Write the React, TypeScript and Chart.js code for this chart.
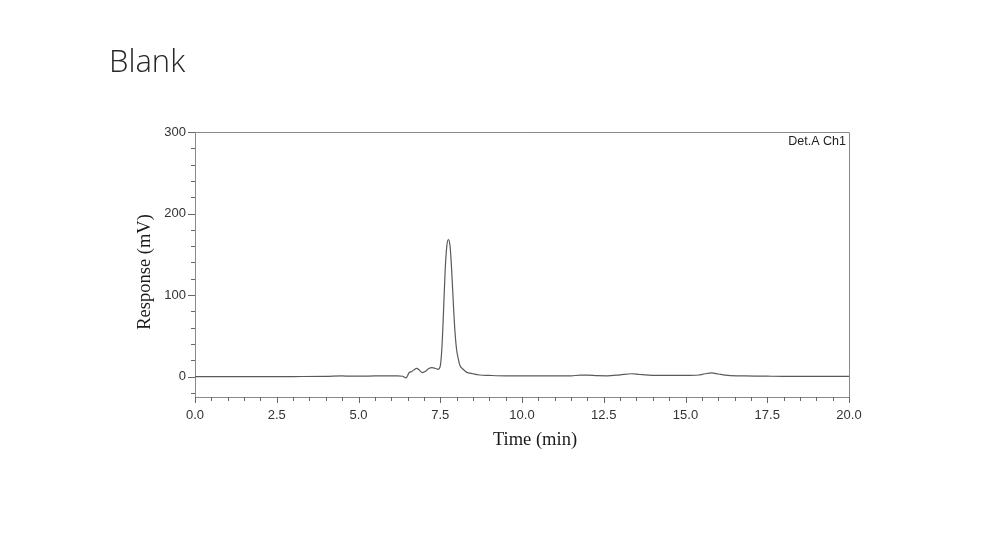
import { useEffect, useRef } from 'react';
import { Chart, registerables } from 'chart.js';

Chart.register(...registerables);

const CHART_TITLE = 'Blank';
const CHANNEL_LABEL = 'Det.A Ch1';
const X_TITLE = 'Time (min)';
const Y_TITLE = 'Response (mV)';

const TIMES = [
  0, 1, 2, 3, 4, 4.5, 4.7, 5.0, 5.5, 5.8, 6.0, 6.2, 6.35, 6.45, 6.5, 6.55, 6.62, 6.7, 6.78, 6.86,
  6.95, 7.05, 7.15, 7.25, 7.35, 7.43, 7.5, 7.55, 7.6, 7.65, 7.7, 7.75, 7.8, 7.85, 7.9, 7.95, 8.0,
  8.05, 8.1, 8.2, 8.3, 8.5, 8.7, 9.0, 9.5, 10.0, 10.5, 11.0, 11.5, 11.8, 12.0, 12.3, 12.6, 13.0,
  13.35, 13.6, 14.0, 14.5, 15.0, 15.4, 15.6, 15.8, 16.0, 16.3, 16.8, 17.5, 18.0, 19.0, 20.0,
];
const RESPONSE = [
  0, 0, 0, 0.1, 0.3, 0.8, 0.6, 0.5, 0.8, 0.9, 0.8, 1.0, 0.5, -1.5, 1, 5, 6, 8.5, 10, 8,
  5, 6.5, 10, 11, 10, 9, 13, 35, 80, 130, 160, 168, 160, 130, 90, 55, 33,
  22, 14, 9, 5.5, 3.5, 2, 1.5, 1, 1, 0.8, 0.8, 1, 1.8, 1.8, 1.2, 1.0, 2.2,
  3.5, 2.6, 1.6, 1.5, 1.4, 2, 3.5, 4.5, 3.2, 1.5, 0.8, 0.5, 0.3, 0.2, 0.2,
];

const X_TICKS = [0, 2.5, 5, 7.5, 10, 12.5, 15, 17.5, 20];
const Y_TICKS = [0, 100, 200, 300];
const X_MINOR_STEP = 0.5;
const Y_MINOR_STEP = 20;

export default function App() {
  const ref = useRef<HTMLCanvasElement>(null);

  useEffect(() => {
    if (!ref.current) return;
    const framePlugin = {
      id: 'frame',
      afterDraw(chart: any) {
        const { ctx, chartArea } = chart;
        const xs = chart.scales.x;
        const ys = chart.scales.y;
        ctx.save();
        // box
        ctx.strokeStyle = '#8a8a8a';
        ctx.lineWidth = 1;
        ctx.beginPath();
        ctx.moveTo(chartArea.left, chartArea.top + 0.5);
        ctx.lineTo(chartArea.right + 0.5, chartArea.top + 0.5);
        ctx.lineTo(chartArea.right + 0.5, chartArea.bottom);
        ctx.stroke();
        // ticks
        ctx.strokeStyle = '#666';
        ctx.beginPath();
        for (let v = xs.min; v <= xs.max + 1e-9; v += X_MINOR_STEP) {
          const px = Math.round(xs.getPixelForValue(v)) + 0.5;
          const major = X_TICKS.some((t) => Math.abs(t - v) < 1e-6);
          ctx.moveTo(px, chartArea.bottom);
          ctx.lineTo(px, chartArea.bottom + (major ? 6 : 4));
        }
        const yStart = Math.ceil(ys.min / Y_MINOR_STEP) * Y_MINOR_STEP;
        for (let v = yStart; v <= ys.max + 1e-9; v += Y_MINOR_STEP) {
          const py = Math.round(ys.getPixelForValue(v)) + 0.5;
          const major = Y_TICKS.some((t) => Math.abs(t - v) < 1e-6);
          ctx.moveTo(chartArea.left, py);
          ctx.lineTo(chartArea.left - (major ? 7 : 4), py);
        }
        ctx.stroke();
        // channel label
        ctx.fillStyle = '#222';
        ctx.font = '12.5px "Liberation Sans", Arial, sans-serif';
        ctx.textAlign = 'right';
        ctx.textBaseline = 'middle';
        ctx.fillText(CHANNEL_LABEL, chartArea.right - 3, chartArea.top + 10);
        // axis titles
        ctx.fillStyle = '#1a1a1a';
        ctx.font = '18.5px "Liberation Serif", "Times New Roman", serif';
        ctx.textAlign = 'center';
        ctx.textBaseline = 'middle';
        ctx.fillText(X_TITLE, 527, 432);
        ctx.save();
        ctx.translate(137, 264);
        ctx.rotate(-Math.PI / 2);
        ctx.fillText(Y_TITLE, 0, 0);
        ctx.restore();
        // page title
        ctx.fillStyle = '#262626';
        ctx.font = '300 31px "Open Sans", "Noto Sans", sans-serif';
        ctx.textAlign = 'left';
        ctx.textBaseline = 'alphabetic';
        ctx.fillText(CHART_TITLE, 101, 64);
        ctx.restore();
      },
    };

    const chart = new Chart(ref.current, {
      type: 'line',
      data: {
        datasets: [
          {
            data: TIMES.map((t, i) => ({ x: t, y: RESPONSE[i] })),
            borderColor: '#5a5a5a',
            borderWidth: 1.2,
            pointRadius: 0,
            fill: false,
            cubicInterpolationMode: 'monotone',
          },
        ],
      },
      options: {
        responsive: false,
        animation: false,
        devicePixelRatio: 1,
        layout: { padding: { left: 123, right: 129, top: 124, bottom: 92 } },
        plugins: { legend: { display: false }, tooltip: { enabled: false } },
        scales: {
          x: {
            type: 'linear',
            min: 0,
            max: 20,
            afterBuildTicks: (s: any) => {
              s.ticks = X_TICKS.map((v) => ({ value: v }));
            },
            afterFit: (s: any) => {
              s.height = 58;
            },
            grid: { display: true, drawOnChartArea: false, drawTicks: false },
            border: { display: true, color: '#8a8a8a' },
            ticks: {
              padding: 11,
              color: '#333',
              font: { family: '"Liberation Sans", Arial, sans-serif', size: 13 },
              callback: (v: any) => Number(v).toFixed(1),
              maxRotation: 0,
            },
          },
          y: {
            type: 'linear',
            min: -25,
            max: 300,
            afterBuildTicks: (s: any) => {
              s.ticks = Y_TICKS.map((v) => ({ value: v }));
            },
            afterFit: (s: any) => {
              s.width = 64;
            },
            grid: { display: true, drawOnChartArea: false, drawTicks: false },
            border: { display: true, color: '#8a8a8a' },
            ticks: {
              padding: 9,
              color: '#333',
              font: { family: '"Liberation Sans", Arial, sans-serif', size: 13 },
              callback: (v: any) => String(v),
            },
          },
        },
      },
      plugins: [framePlugin],
    });
    return () => chart.destroy();
  }, []);

  return (
    <div style={{ width: 970, height: 539 }}>
      <canvas ref={ref} width={970} height={539} style={{ display: 'block' }} />
    </div>
  );
}
